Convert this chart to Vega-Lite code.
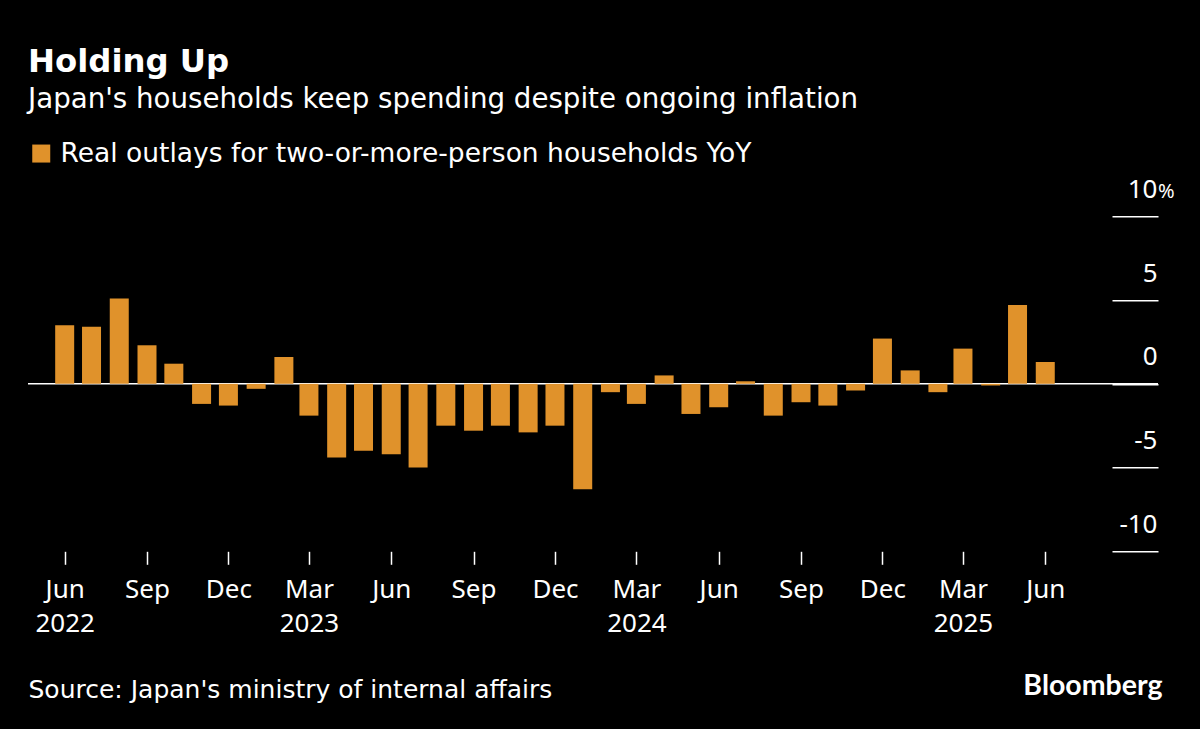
{
  "$schema": "https://vega.github.io/schema/vega-lite/v6.json",
  "autosize": "none",
  "padding": {"left": 28, "top": 216.3, "right": 42, "bottom": 177.7},
  "width": 1130,
  "height": 335,
  "background": "#000000",
  "config": {
    "view": {"stroke": null},
    "font": "DejaVu Sans"
  },
  "title": {
    "text": "Holding Up",
    "subtitle": "Japan's households keep spending despite ongoing inflation",
    "anchor": "start",
    "frame": "group",
    "offset": 27,
    "color": "#ffffff",
    "subtitleColor": "#ffffff",
    "font": "DejaVu Sans",
    "subtitleFont": "DejaVu Sans",
    "fontSize": 32.3,
    "fontWeight": "bold",
    "subtitleFontSize": 27.7,
    "subtitlePadding": 7
  },
  "data": {
    "values": [
      {"month": "2022-06-01", "yoy": 3.5, "series": "Real outlays for two-or-more-person households YoY"},
      {"month": "2022-07-01", "yoy": 3.4, "series": "Real outlays for two-or-more-person households YoY"},
      {"month": "2022-08-01", "yoy": 5.1, "series": "Real outlays for two-or-more-person households YoY"},
      {"month": "2022-09-01", "yoy": 2.3, "series": "Real outlays for two-or-more-person households YoY"},
      {"month": "2022-10-01", "yoy": 1.2, "series": "Real outlays for two-or-more-person households YoY"},
      {"month": "2022-11-01", "yoy": -1.2, "series": "Real outlays for two-or-more-person households YoY"},
      {"month": "2022-12-01", "yoy": -1.3, "series": "Real outlays for two-or-more-person households YoY"},
      {"month": "2023-01-01", "yoy": -0.3, "series": "Real outlays for two-or-more-person households YoY"},
      {"month": "2023-02-01", "yoy": 1.6, "series": "Real outlays for two-or-more-person households YoY"},
      {"month": "2023-03-01", "yoy": -1.9, "series": "Real outlays for two-or-more-person households YoY"},
      {"month": "2023-04-01", "yoy": -4.4, "series": "Real outlays for two-or-more-person households YoY"},
      {"month": "2023-05-01", "yoy": -4.0, "series": "Real outlays for two-or-more-person households YoY"},
      {"month": "2023-06-01", "yoy": -4.2, "series": "Real outlays for two-or-more-person households YoY"},
      {"month": "2023-07-01", "yoy": -5.0, "series": "Real outlays for two-or-more-person households YoY"},
      {"month": "2023-08-01", "yoy": -2.5, "series": "Real outlays for two-or-more-person households YoY"},
      {"month": "2023-09-01", "yoy": -2.8, "series": "Real outlays for two-or-more-person households YoY"},
      {"month": "2023-10-01", "yoy": -2.5, "series": "Real outlays for two-or-more-person households YoY"},
      {"month": "2023-11-01", "yoy": -2.9, "series": "Real outlays for two-or-more-person households YoY"},
      {"month": "2023-12-01", "yoy": -2.5, "series": "Real outlays for two-or-more-person households YoY"},
      {"month": "2024-01-01", "yoy": -6.3, "series": "Real outlays for two-or-more-person households YoY"},
      {"month": "2024-02-01", "yoy": -0.5, "series": "Real outlays for two-or-more-person households YoY"},
      {"month": "2024-03-01", "yoy": -1.2, "series": "Real outlays for two-or-more-person households YoY"},
      {"month": "2024-04-01", "yoy": 0.5, "series": "Real outlays for two-or-more-person households YoY"},
      {"month": "2024-05-01", "yoy": -1.8, "series": "Real outlays for two-or-more-person households YoY"},
      {"month": "2024-06-01", "yoy": -1.4, "series": "Real outlays for two-or-more-person households YoY"},
      {"month": "2024-07-01", "yoy": 0.15, "series": "Real outlays for two-or-more-person households YoY"},
      {"month": "2024-08-01", "yoy": -1.9, "series": "Real outlays for two-or-more-person households YoY"},
      {"month": "2024-09-01", "yoy": -1.1, "series": "Real outlays for two-or-more-person households YoY"},
      {"month": "2024-10-01", "yoy": -1.3, "series": "Real outlays for two-or-more-person households YoY"},
      {"month": "2024-11-01", "yoy": -0.4, "series": "Real outlays for two-or-more-person households YoY"},
      {"month": "2024-12-01", "yoy": 2.7, "series": "Real outlays for two-or-more-person households YoY"},
      {"month": "2025-01-01", "yoy": 0.8, "series": "Real outlays for two-or-more-person households YoY"},
      {"month": "2025-02-01", "yoy": -0.5, "series": "Real outlays for two-or-more-person households YoY"},
      {"month": "2025-03-01", "yoy": 2.1, "series": "Real outlays for two-or-more-person households YoY"},
      {"month": "2025-04-01", "yoy": -0.1, "series": "Real outlays for two-or-more-person households YoY"},
      {"month": "2025-05-01", "yoy": 4.7, "series": "Real outlays for two-or-more-person households YoY"},
      {"month": "2025-06-01", "yoy": 1.3, "series": "Real outlays for two-or-more-person households YoY"}
    ],
    "format": {"parse": {"month": "utc:'%Y-%m-%d'"}}
  },
  "layer": [
    {
      "data": {"values": [{"baseline": 0}]},
      "mark": {"type": "rule", "color": "#ffffff", "strokeWidth": 1.5},
      "encoding": {"y": {"field": "baseline", "type": "quantitative"}}
    },
    {
      "mark": {"type": "bar", "width": 19},
      "encoding": {
        "x": {
          "field": "month",
          "type": "temporal",
          "scale": {
            "type": "utc",
            "nice": false,
            "padding": 0,
            "domain": [
              {"year": 2022, "month": 4, "date": 21, "utc": true},
              {"year": 2025, "month": 10, "date": 5, "utc": true}
            ]
          },
          "axis": {
            "orient": "bottom",
            "title": "Source: Japan's ministry of internal affairs",
            "titleColor": "#ffffff",
            "titleFont": "DejaVu Sans",
            "titleFontSize": 25,
            "titleFontWeight": "normal",
            "titleAlign": "left",
            "titleBaseline": "alphabetic",
            "titleX": 0,
            "titleY": 146,
            "values": [
              {"year": 2022, "month": 6, "date": 1, "utc": true},
              {"year": 2022, "month": 9, "date": 1, "utc": true},
              {"year": 2022, "month": 12, "date": 1, "utc": true},
              {"year": 2023, "month": 3, "date": 1, "utc": true},
              {"year": 2023, "month": 6, "date": 1, "utc": true},
              {"year": 2023, "month": 9, "date": 1, "utc": true},
              {"year": 2023, "month": 12, "date": 1, "utc": true},
              {"year": 2024, "month": 3, "date": 1, "utc": true},
              {"year": 2024, "month": 6, "date": 1, "utc": true},
              {"year": 2024, "month": 9, "date": 1, "utc": true},
              {"year": 2024, "month": 12, "date": 1, "utc": true},
              {"year": 2025, "month": 3, "date": 1, "utc": true},
              {"year": 2025, "month": 6, "date": 1, "utc": true}
            ],
            "labelExpr": "utcmonth(datum.value) == 2 || datum.index == 0 ? [utcFormat(datum.value, '%b'), utcFormat(datum.value, '%Y')] : utcFormat(datum.value, '%b')",
            "labelColor": "#ffffff",
            "labelFont": "Noto Sans",
            "labelFontSize": 26,
            "labelLineHeight": 34,
            "labelPadding": 12,
            "labelOverlap": false,
            "labelFlush": false,
            "labelBound": false,
            "domain": false,
            "grid": false,
            "ticks": true,
            "tickColor": "#ffffff",
            "tickSize": 13,
            "tickWidth": 1.5
          }
        },
        "y": {
          "field": "yoy",
          "type": "quantitative",
          "scale": {"domain": [-10, 10], "nice": false, "zero": false},
          "axis": {
            "orient": "right",
            "title": "Bloomberg",
            "titleColor": "#ffffff",
            "titleFont": "Lato",
            "titleFontSize": 28.5,
            "titleFontWeight": "bold",
            "titleAngle": 0,
            "titleAlign": "right",
            "titleBaseline": "alphabetic",
            "titleX": 4,
            "titleY": 478,
            "values": [-10, -5, 0, 5, 10],
            "labelExpr": "'' + datum.value",
            "labelColor": "#ffffff",
            "labelFont": "Noto Sans",
            "labelFontSize": 26,
            "labelAlign": "right",
            "labelBaseline": "bottom",
            "labelPadding": 45,
            "labelOffset": -14,
            "domain": false,
            "grid": false,
            "tickColor": "#ffffff",
            "tickSize": -46,
            "tickWidth": 1.5
          }
        },
        "color": {
          "field": "series",
          "type": "nominal",
          "scale": {"range": ["#E0922B"]},
          "legend": {
            "orient": "none",
            "legendX": 0,
            "legendY": -76,
            "title": null,
            "symbolType": "square",
            "symbolSize": 324,
            "symbolStrokeWidth": 0,
            "symbolOpacity": 1,
            "labelColor": "#ffffff",
            "labelFont": "DejaVu Sans",
            "labelFontSize": 26.5,
            "labelLimit": 900,
            "labelOffset": 6
          }
        }
      }
    },
    {
      "data": {"values": [{"unit": "%", "level": 10}]},
      "mark": {
        "type": "text",
        "align": "left",
        "baseline": "bottom",
        "dy": -14,
        "color": "#ffffff",
        "font": "Noto Sans",
        "fontSize": 20
      },
      "encoding": {
        "x": {"datum": {"year": 2025, "month": 10, "date": 5, "utc": true}},
        "y": {"field": "level", "type": "quantitative"},
        "text": {"field": "unit", "type": "nominal"}
      }
    }
  ]
}
